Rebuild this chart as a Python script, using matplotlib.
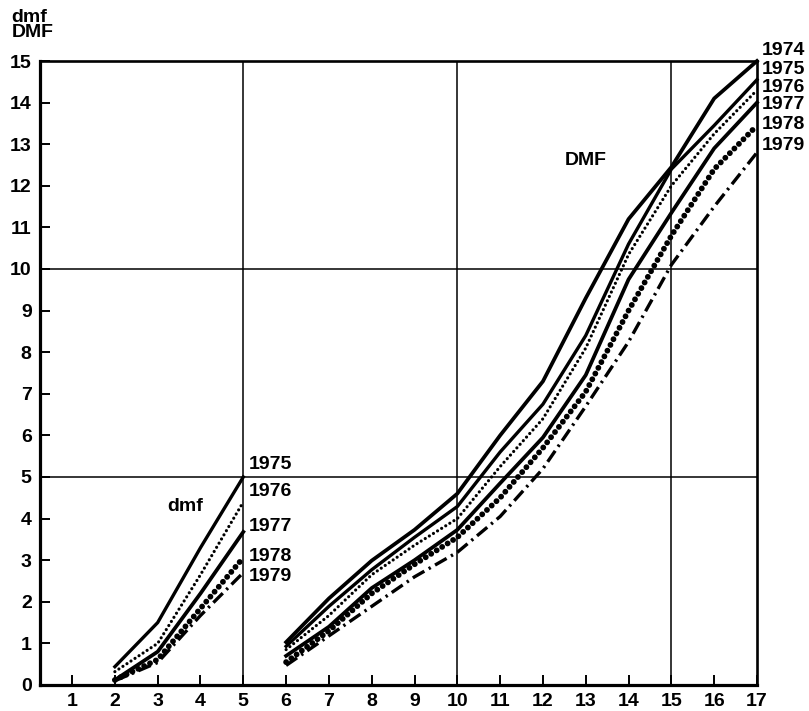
import matplotlib
matplotlib.use("Agg")
import matplotlib.pyplot as plt

plt.rcParams['font.family'] = ['Liberation Sans', 'DejaVu Sans']
plt.rcParams['font.weight'] = 'bold'

# milk teeth (dmf), age 2-5
dmf_ages = [2, 3, 4, 5]
dmf_years = ['1975', '1976', '1977', '1978', '1979']
dmf_1975 = [0.44, 1.5, 3.3, 5.0]
dmf_1976 = [0.32, 1.0, 2.65, 4.4]
dmf_1977 = [0.12, 0.8, 2.2, 3.68]
dmf_1978 = [0.12, 0.61, 1.84, 3.06]
dmf_1979 = [0.1, 0.54, 1.67, 2.7]

# permanent teeth (DMF), age 6-17
DMF_ages = [6, 7, 8, 9, 10, 11, 12, 13, 14, 15, 16, 17]
DMF_years = ['1974', '1975', '1976', '1977', '1978', '1979']
DMF_1974 = [1.03, 2.08, 2.99, 3.73, 4.6, 6.0, 7.3, 9.3, 11.2, 12.45, 14.1, 15.0]
DMF_1975 = [0.93, 1.89, 2.77, 3.55, 4.29, 5.6, 6.75, 8.4, 10.6, 12.4, 13.45, 14.55]
DMF_1976 = [0.85, 1.67, 2.65, 3.36, 4.0, 5.25, 6.4, 8.1, 10.35, 12.0, 13.25, 14.3]
DMF_1977 = [0.7, 1.4, 2.33, 3.0, 3.73, 4.85, 5.95, 7.45, 9.75, 11.35, 12.9, 14.0]
DMF_1978 = [0.55, 1.3, 2.2, 2.9, 3.55, 4.5, 5.7, 7.05, 9.0, 10.8, 12.4, 13.45]
DMF_1979 = [0.47, 1.18, 1.89, 2.6, 3.19, 4.05, 5.2, 6.7, 8.25, 10.1, 11.5, 12.8]

# label heights at the line ends
dmf_label_y = [5.3, 4.65, 3.8, 3.1, 2.6]
DMF_label_y = [15.26, 14.8, 14.37, 13.95, 13.47, 12.98]

styles = {
    '1974': dict(lw=2.7, ls='-'),
    '1975': dict(lw=2.4, ls='-'),
    '1976': dict(lw=2.3, ls=(0, (0.01, 1.5)), dash_capstyle='round'),
    '1977': dict(lw=2.7, ls='-'),
    '1978': dict(lw=4.2, ls=(0, (0.01, 1.1)), dash_capstyle='round'),
    '1979': dict(lw=2.4, ls=(0, (4.0, 1.5, 0.7, 1.5))),
}

fig = plt.figure(figsize=(8.09, 7.11), dpi=100)
ax = fig.add_axes([0.0494, 0.0366, 0.8863, 0.8776])

# reference lines
for x in [5, 10, 15]:
    ax.axvline(x, color='black', lw=1.1, zorder=1)
for y in [5, 10]:
    ax.axhline(y, color='black', lw=1.1, zorder=1)

dmf_series = [dmf_1975, dmf_1976, dmf_1977, dmf_1978, dmf_1979]
for year, vals, ly in zip(dmf_years, dmf_series, dmf_label_y):
    ax.plot(dmf_ages, vals, color='black', clip_on=False, zorder=3, **styles[year])
    ax.text(5.12, ly, year, fontsize=14, va='center', ha='left')

DMF_series = [DMF_1974, DMF_1975, DMF_1976, DMF_1977, DMF_1978, DMF_1979]
for year, vals, ly in zip(DMF_years, DMF_series, DMF_label_y):
    ax.plot(DMF_ages, vals, color='black', clip_on=False, zorder=3, **styles[year])
    ax.text(17.12, ly, year, fontsize=14, va='center', ha='left')

ax.text(3.65, 4.3, 'dmf', fontsize=14, ha='center', va='center')
ax.text(13.0, 12.6, 'DMF', fontsize=14, ha='center', va='center')

ax.set_xlim(0.25, 17)
ax.set_ylim(0, 15)
ax.set_xticks(range(1, 18))
ax.set_yticks(range(0, 16))
ax.tick_params(direction='in', length=7, width=1.4, labelsize=14, pad=6)

for side in ['left', 'bottom']:
    ax.spines[side].set_linewidth(2.3)
for side in ['top', 'right']:
    ax.spines[side].set_linewidth(1.9)

fig.text(0.014, 0.988, 'dmf\nDMF', fontsize=14, va='top', ha='left', linespacing=0.9)

plt.savefig("out.png", dpi=100)
